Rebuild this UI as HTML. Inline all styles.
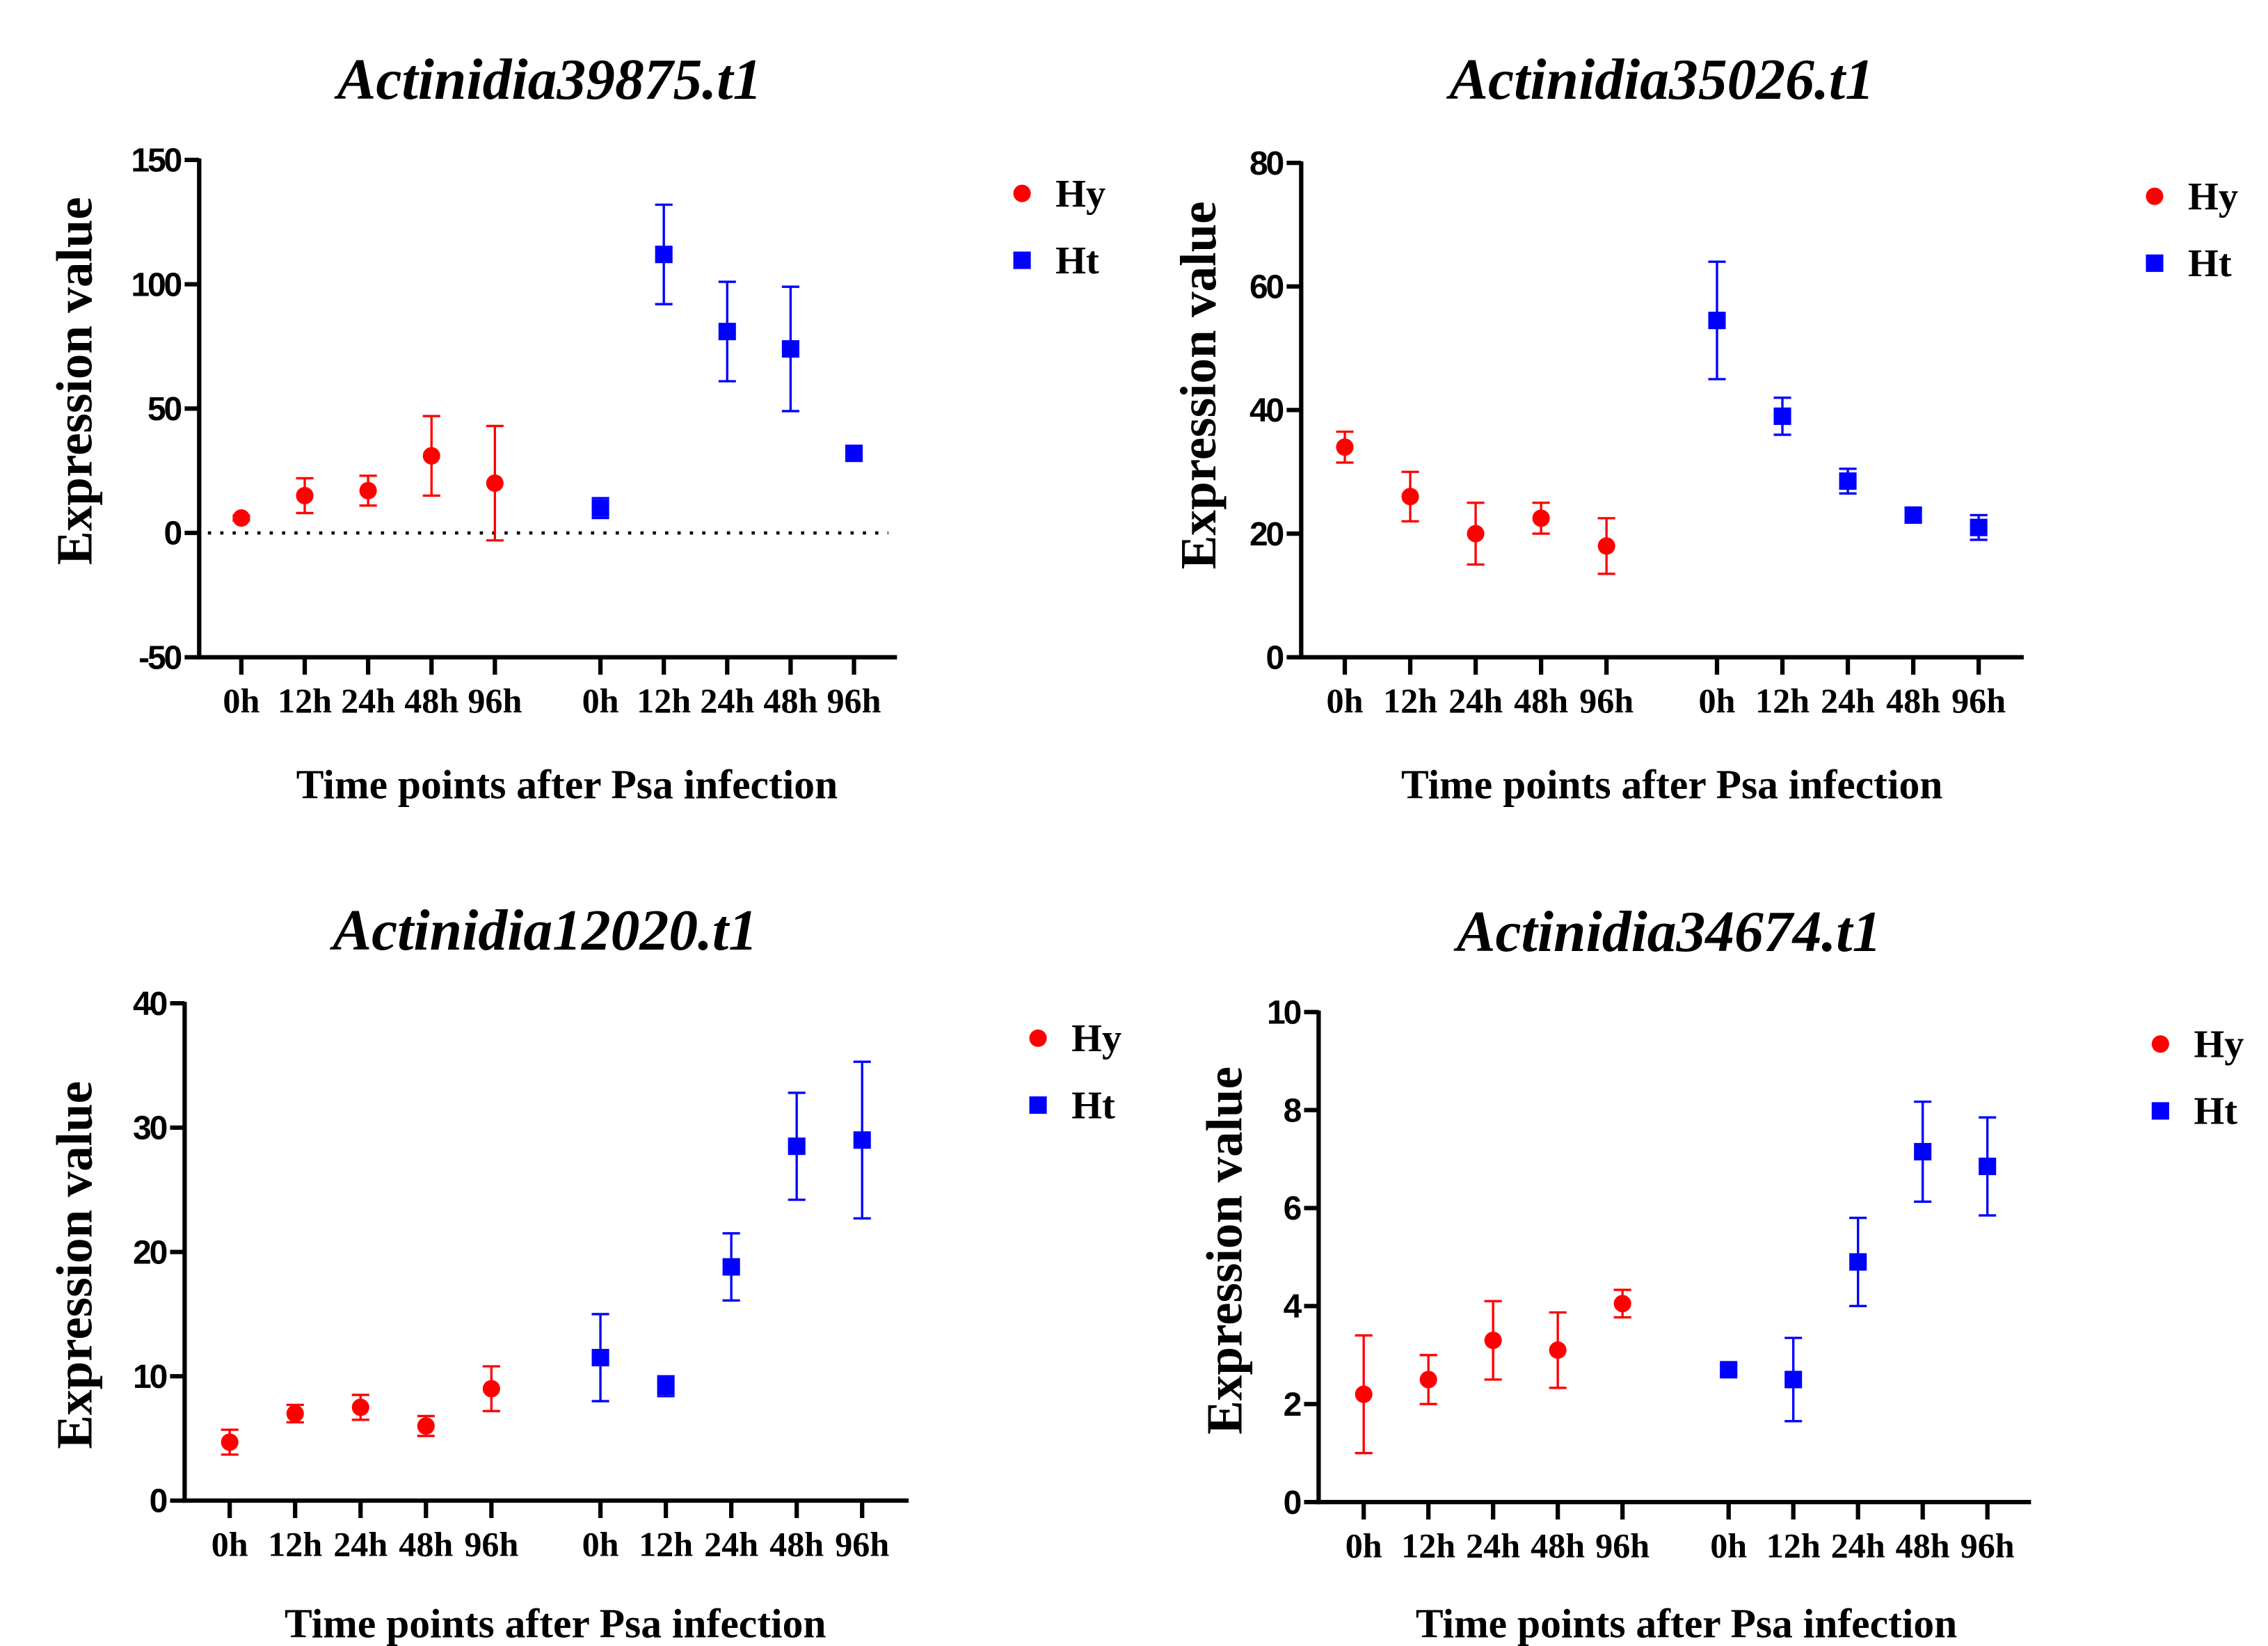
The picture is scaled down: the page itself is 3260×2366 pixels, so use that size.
<!DOCTYPE html>
<html><head><meta charset="utf-8"><style>html,body{margin:0;padding:0;background:#fff}svg{display:block}</style></head>
<body>
<svg id="fig" width="3260" height="2366" viewBox="0 0 1560 1132" preserveAspectRatio="none" xmlns="http://www.w3.org/2000/svg"></svg>
<script>
const categories = ["0h","12h","24h","48h","96h","0h","12h","24h","48h","96h"];
const p1Ticks = [-50,0,50,100,150];
const p1Hy = [6,15,17,31,20];
const p1HyErr = [1,7,6,16,23];
const p1Ht = [10,112,81,74,32];
const p1HtErr = [4,20,20,25,2];
const p2Ticks = [0,20,40,60,80];
const p2Hy = [34,26,20,22.5,18];
const p2HyErr = [2.5,4,5,2.5,4.5];
const p2Ht = [54.5,39,28.5,23,21];
const p2HtErr = [9.5,3,2,1,2];
const p3Ticks = [0,10,20,30,40];
const p3Hy = [4.7,7,7.5,6,9];
const p3HyErr = [1,0.7,1,0.8,1.8];
const p3Ht = [11.5,9.2,18.8,28.5,29];
const p3HtErr = [3.5,0.8,2.7,4.3,6.3];
const p4Ticks = [0,2,4,6,8,10];
const p4Hy = [2.2,2.5,3.3,3.1,4.05];
const p4HyErr = [1.2,0.5,0.8,0.77,0.28];
const p4Ht = [2.7,2.5,4.9,7.15,6.85];
const p4HtErr = [0.1,0.85,0.9,1.02,1];

const NS="http://www.w3.org/2000/svg";
const svg=document.getElementById('fig');
function mk(tag,attrs,parent,text){const e=document.createElementNS(NS,tag);for(const k in attrs)e.setAttribute(k,attrs[k]);if(text!==undefined)e.textContent=text;(parent||svg).appendChild(e);return e;}

const panels=[
 {title:"Actinidia39875.t1",ticks:p1Ticks,hy:p1Hy,hyE:p1HyErr,ht:p1Ht,htE:p1HtErr,ax:137,top:110,bot:452,right:617,x0:166,x5:413,step:43.6,tx:378,ty:55,ytx:52,yty:262,atx:390,aty:540,lx:703,ly:133,zero:true},
 {title:"Actinidia35026.t1",ticks:p2Ticks,hy:p2Hy,hyE:p2HyErr,ht:p2Ht,htE:p2HtErr,ax:895,top:112,bot:452,right:1392,x0:925,x5:1181,step:45,tx:1143,ty:55,ytx:825,yty:265,atx:1150,aty:540,lx:1482,ly:135},
 {title:"Actinidia12020.t1",ticks:p3Ticks,hy:p3Hy,hyE:p3HyErr,ht:p3Ht,htE:p3HtErr,ax:127,top:690,bot:1032,right:625,x0:158,x5:413,step:45,tx:375,ty:640,ytx:52,yty:870,atx:382,aty:1117,lx:714,ly:714},
 {title:"Actinidia34674.t1",ticks:p4Ticks,hy:p4Hy,hyE:p4HyErr,ht:p4Ht,htE:p4HtErr,ax:907,top:696,bot:1033,right:1397,x0:938,x5:1189,step:44.5,tx:1148,ty:641,ytx:843,yty:860,atx:1160,aty:1117,lx:1486,ly:718}
];

panels.forEach((p,pi)=>{
 const g=mk('g',{});
 
 
 const lo=p.ticks[0],hi=p.ticks[p.ticks.length-1];
 const y=v=>p.bot-(v-lo)/(hi-lo)*(p.bot-p.top);
 const xs=i=>i<5?p.x0+i*p.step:p.x5+(i-5)*p.step;
 const t=mk('text',{x:p.tx,y:p.ty+13,'text-anchor':'middle','font-family':'Liberation Serif, serif','font-style':'italic','font-weight':'bold','font-size':40},g,p.title);
 
 
 const yt=mk('text',{x:0,y:0,transform:`translate(${p.ytx+11},${p.yty}) rotate(-90)`,'text-anchor':'middle','font-family':'Liberation Serif, serif','font-weight':'bold','font-size':35},g,'Expression value');
 
 
 const xt=mk('text',{x:p.atx,y:p.aty+9,'text-anchor':'middle','font-family':'Liberation Serif, serif','font-weight':'bold','font-size':28.5},g,'Time points after Psa infection');
 
 
 mk('line',{x1:p.ax,y1:p.top-1,x2:p.ax,y2:p.bot+1.5,stroke:'#000','stroke-width':3},g);
 mk('line',{x1:p.ax-1.5,y1:p.bot,x2:p.right,y2:p.bot,stroke:'#000','stroke-width':3},g);
 p.ticks.forEach(v=>{
  mk('line',{x1:p.ax-10,y1:y(v),x2:p.ax,y2:y(v),stroke:'#000','stroke-width':3},g);
  const tl=mk('text',{x:p.ax-13,y:y(v)+8,'text-anchor':'end','font-family':'Liberation Sans, sans-serif','font-weight':'bold','font-size':23,'letter-spacing':'-1.5'},g,String(v));
  
  
 });
 if(p.zero){mk('line',{x1:p.ax+6,y1:y(0),x2:p.right-6,y2:y(0),stroke:'#000','stroke-width':2.2,'stroke-dasharray':'2.2 6.3'},g);}
 categories.forEach((c,i)=>{
  mk('line',{x1:xs(i),y1:p.bot,x2:xs(i),y2:p.bot+12,stroke:'#000','stroke-width':3},g);
  const xl=mk('text',{x:xs(i),y:p.bot+38,'text-anchor':'middle','font-family':'Liberation Serif, serif','font-weight':'bold','font-size':24},g,c);
  
  
 });
 const series=[{v:p.hy,e:p.hyE,col:'#ff0000',name:'hy',off:0},{v:p.ht,e:p.htE,col:'#0000ff',name:'ht',off:5}];
 series.forEach(s=>{
  s.v.forEach((v,i)=>{
   const cx=xs(i+s.off),cy=y(v),ytop=y(v+s.e[i]),ybot=y(v-s.e[i]);
   const eb=mk('path',{d:`M${cx},${ytop}V${ybot}M${cx-6},${ytop}H${cx+6}M${cx-6},${ybot}H${cx+6}`,stroke:s.col,'stroke-width':1.6,fill:'none'},g);
   
   
   let m;
   if(s.name==='hy') m=mk('circle',{cx:cx,cy:cy,r:6,fill:s.col},g);
   else m=mk('rect',{x:cx-6,y:cy-6,width:12,height:12,fill:s.col},g);
   
   
  });
 });
 const l1=mk('circle',{cx:p.lx,cy:p.ly,r:6,fill:'#ff0000'},g);
 
 
 const lt1=mk('text',{x:p.lx+23,y:p.ly+9,'font-family':'Liberation Serif, serif','font-weight':'bold','font-size':27},g,'Hy');
 
 
 const l2=mk('rect',{x:p.lx-6,y:p.ly+40,width:12,height:12,fill:'#0000ff'},g);
 
 
 const lt2=mk('text',{x:p.lx+23,y:p.ly+55,'font-family':'Liberation Serif, serif','font-weight':'bold','font-size':27},g,'Ht');
 
 
});
</script>
</body></html>
